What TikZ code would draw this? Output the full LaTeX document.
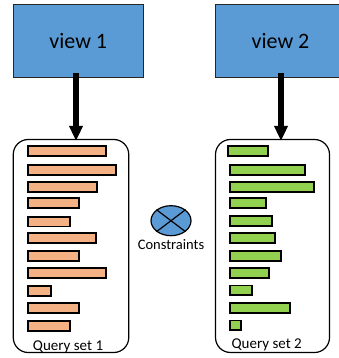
\documentclass[tikz,border=0pt]{standalone}
\usepackage{fontspec}
\setmainfont{Carlito}
\usetikzlibrary{arrows.meta,shapes.geometric}
\definecolor{viewblue}{HTML}{5B9BD5}
\definecolor{qorange}{HTML}{F4B183}
\definecolor{qgreen}{HTML}{92D050}
\begin{document}
\begin{tikzpicture}[x=1pt,y=-1pt,
  viewbox/.style={draw=black!85,line width=1.3pt,fill=viewblue,minimum width=130pt,minimum height=73pt,inner sep=0pt,font=\fontsize{22}{24}\selectfont},
  setbox/.style={draw=black,line width=1.2pt,rounded corners=15pt,inner sep=0pt},
  bar/.style={draw=black,line width=1.8pt},
  arr/.style={line width=6pt,-{Triangle[width=13pt,length=15pt]}},
  lbl/.style={inner sep=0pt,font=\fontsize{15}{17}\selectfont}]
\clip (0,0) rectangle (339,358);
\fill[white] (0,0) rectangle (339,358);

% the two input views
\node[viewbox] (v1) at (78.3,41) {view 1};
\node[viewbox] (v2) at (280.5,41) {view 2};

% query set containers
\node[setbox,minimum width=115.5pt,minimum height=213pt] (q1) at (71,246) {};
\node[setbox,minimum width=114pt,minimum height=213pt] (q2) at (272.5,246) {};

% arrows from the views down to their query sets
\draw[arr] ([xshift=-2.3pt,yshift=5pt]v1.south) -- ([xshift=-2.3pt,yshift=-2pt]v1.south |- q1.north);
\draw[arr] ([xshift=0.5pt,yshift=5pt]v2.south) -- ([xshift=0.5pt,yshift=-2pt]v2.south |- q2.north);

% query bars, set 1
\foreach \yc/\xe in {151.2/107,170/117,186.8/98,202.8/80,221.5/71,238/97,256/80,272.8/107,291/52,308/80,326/71}
  \draw[bar,fill=qorange] (27.9,\yc-4.9) rectangle (\xe-0.9,\yc+4.9);
% query bars, set 2
\draw[bar,fill=qgreen] (228.2,146.1) rectangle (267.8,155.9);
\foreach \yc/\xe in {169.7/306,186.7/315,202.7/267,220.7/272.7,237.7/276,255.7/282,273/270,290.3/253,307.7/290.7,325.3/242}
  \draw[bar,fill=qgreen] (229.9,\yc-4.9) rectangle (\xe-0.9,\yc+4.9);

\node[lbl] (l1) at (68,346.5) {Query set 1};
\node[lbl] (l2) at (266.7,345) {Query set 2};

% constraint symbol between the two sets
\node[draw=black,line width=1.2pt,fill=viewblue,ellipse,minimum width=40pt,minimum height=30pt,inner sep=0pt] (c) at (171,220.7) {};
\draw[line width=1.2pt] (c.north west) -- (c.south east);
\draw[line width=1.2pt] (c.north east) -- (c.south west);
\node[lbl,font=\fontsize{14.5}{16}\selectfont] (ct) at (171,245) {Constraints};
\end{tikzpicture}
\end{document}
